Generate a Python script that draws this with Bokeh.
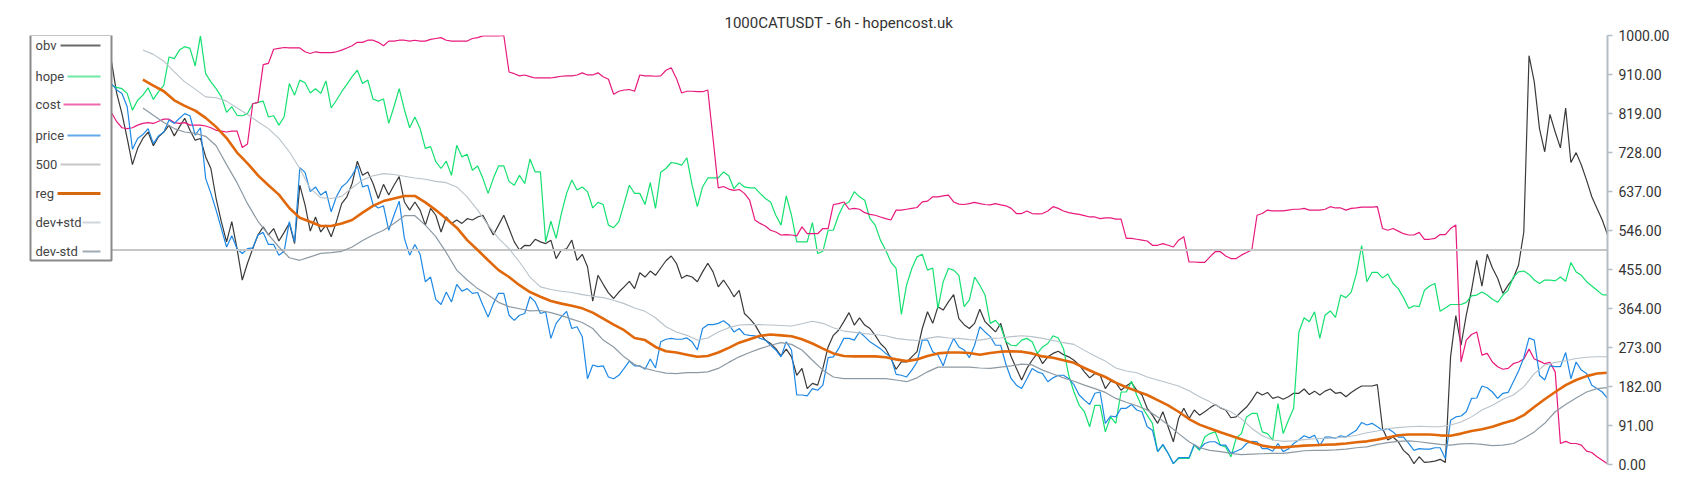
from bokeh.plotting import figure
from bokeh.models import Range1d, FixedTicker, PrintfTickFormatter
from bokeh.core.properties import value
from bokeh.embed import file_html
from bokeh.resources import INLINE

TITLE = "1000CATUSDT - 6h - hopencost.uk"
Y_TICKS = [0, 91, 182, 273, 364, 455, 546, 637, 728, 819, 910, 1000]
LEVEL = 500

obv = [
    939, 865, 818, 760, 699, 737, 760, 775, 743, 764,
    775, 791, 766, 787, 807, 779, 756, 760, 717, 690,
    620, 566, 519, 566, 503, 430, 469, 503, 535, 554,
    535, 550, 521, 541, 562, 515, 651, 605, 544, 577,
    542, 558, 531, 566, 608, 624, 655, 707, 674, 682,
    655, 620, 653, 628, 651, 671, 612, 593, 612, 593,
    558, 597, 581, 542, 577, 562, 570, 562, 573, 570,
    577, 581, 558, 535, 558, 581, 550, 519, 500, 511,
    510, 525, 519, 515, 523, 480, 500, 503, 523, 476,
    490, 461, 381, 441, 420, 400, 387, 402, 414, 427,
    410, 447, 437, 451, 441, 458, 475, 486, 469, 434,
    441, 437, 426, 449, 469, 449, 414, 430, 412, 391,
    406, 352, 340, 326, 305, 290, 282, 270, 253, 269,
    251, 208, 224, 177, 189, 185, 224, 274, 301, 313,
    333, 354, 325, 342, 325, 317, 301, 282, 270, 247,
    222, 239, 239, 251, 263, 317, 356, 329, 368, 360,
    379, 396, 340, 326, 317, 329, 362, 333, 321, 309,
    329, 286, 251, 224, 197, 224, 243, 259, 235, 251,
    259, 264, 256, 251, 243, 232, 216, 202, 212, 208,
    177, 194, 191, 173, 183, 191, 173, 162, 131, 115,
    96, 123, 88, 53, 107, 131, 107, 127, 115, 123,
    132, 140, 132, 127, 109, 111, 123, 134, 150, 169,
    162, 168, 154, 158, 152, 158, 166, 166, 176, 163,
    171, 162, 171, 176, 166, 168, 158, 168, 176, 183,
    183, 183, 186, 84, 57, 64, 53, 33, 22, 2,
    18, 5, 6, 8, 12, 5, 251, 347, 278, 348,
    406, 476, 416, 490, 458, 434, 399, 418, 434, 465,
    542, 953, 892, 783, 729, 816, 775, 738, 831, 704,
    727, 698, 663, 624, 597, 570, 536,
]

hope = [
    884, 879, 876, 865, 826, 849, 861, 878, 851, 869,
    884, 950, 946, 966, 974, 970, 929, 999, 911, 892,
    876, 857, 821, 834, 814, 813, 818, 841, 844, 847,
    810, 813, 791, 810, 888, 861, 896, 890, 866, 876,
    865, 894, 831, 849, 869, 886, 904, 919, 888, 896,
    852, 847, 852, 795, 834, 876, 827, 785, 810, 783,
    737, 741, 706, 690, 707, 674, 744, 717, 723, 686,
    696, 667, 632, 667, 696, 696, 660, 651, 674, 655,
    712, 682, 682, 519, 567, 527, 585, 632, 663, 640,
    647, 636, 598, 611, 606, 558, 552, 566, 608, 651,
    632, 632, 606, 657, 597, 681, 690, 704, 702, 698,
    715, 651, 601, 647, 668, 668, 668, 682, 673, 643,
    657, 647, 645, 645, 632, 620, 612, 581, 558, 626,
    581, 519, 519, 519, 564, 492, 497, 546, 546, 581,
    606, 612, 636, 624, 616, 573, 558, 523, 500, 472,
    457, 350, 418, 457, 484, 490, 453, 458, 364, 426,
    457, 453, 441, 368, 383, 437, 418, 395, 329, 336,
    321, 286, 278, 277, 290, 294, 286, 259, 274, 282,
    300, 295, 270, 208, 169, 138, 123, 88, 138, 138,
    76, 111, 96, 169, 169, 194, 162, 134, 115, 96,
    30, 45, 26, 2, 14, 14, 14, 45, 33, 64,
    72, 76, 45, 41, 18, 61, 72, 111, 119, 119,
    76, 72, 57, 142, 72, 103, 131, 309, 342, 333,
    356, 294, 348, 358, 343, 395, 389, 402, 445, 510,
    426, 448, 448, 435, 444, 422, 410, 389, 364, 370,
    368, 406, 416, 422, 357, 365, 373, 373, 373, 378,
    393, 395, 402, 395, 385, 378, 395, 406, 437, 449,
    451, 443, 430, 422, 430, 430, 428, 437, 427, 471,
    449, 441, 426, 416, 406, 396, 395,
]

cost = [
    820, 799, 785, 783, 785, 791, 795, 797, 795, 800,
    805, 805, 797, 795, 797, 791, 791, 791, 789, 785,
    779, 777, 775, 777, 777, 739, 747, 841, 844, 932,
    935, 968, 970, 972, 971, 971, 971, 962, 958, 962,
    960, 960, 960, 962, 966, 971, 976, 984, 984, 989,
    989, 984, 976, 987, 987, 989, 989, 987, 989, 987,
    987, 991, 993, 995, 989, 987, 987, 987, 987, 993,
    995, 999, 999, 999, 999, 1000, 915, 911, 906, 908,
    904, 901, 901, 901, 901, 903, 905, 906, 906, 908,
    913, 908, 908, 913, 904, 898, 863, 870, 873, 874,
    870, 908, 906, 906, 905, 906, 919, 925, 900, 866,
    870, 870, 869, 869, 873, 760, 645, 648, 642, 639,
    641, 632, 616, 570, 562, 556, 546, 542, 535, 536,
    535, 533, 554, 538, 538, 538, 550, 550, 606, 608,
    612, 595, 597, 595, 587, 583, 581, 577, 573, 570,
    593, 593, 595, 597, 599, 612, 614, 624, 624, 626,
    628, 612, 607, 606, 608, 611, 608, 606, 605, 608,
    605, 603, 597, 585, 585, 591, 585, 584, 585, 591,
    601, 597, 591, 587, 585, 583, 580, 577, 577, 573,
    575, 575, 572, 572, 527, 527, 525, 523, 521, 511,
    511, 515, 511, 507, 523, 531, 472, 472, 471, 471,
    484, 496, 496, 486, 480, 480, 488, 494, 500, 581,
    585, 593, 591, 591, 591, 593, 595, 595, 597, 593,
    593, 593, 595, 601, 598, 598, 593, 597, 598, 600,
    600, 600, 601, 550, 546, 550, 544, 538, 535, 535,
    541, 525, 525, 527, 536, 536, 550, 558, 239, 290,
    303, 309, 255, 259, 239, 228, 222, 224, 235, 239,
    246, 269, 246, 241, 235, 238, 216, 49, 54, 49,
    49, 45, 31, 28, 18, 10, 2,
]

price = [
    888, 873, 865, 834, 735, 760, 769, 783, 748, 766,
    775, 803, 795, 807, 818, 813, 768, 785, 667, 632,
    593, 550, 507, 533, 503, 492, 503, 505, 535, 541,
    513, 513, 488, 497, 566, 519, 692, 681, 636, 647,
    628, 637, 589, 624, 647, 657, 674, 696, 647, 651,
    606, 598, 603, 546, 581, 614, 527, 488, 513, 490,
    426, 437, 385, 373, 402, 379, 420, 404, 410, 399,
    401, 371, 344, 375, 399, 399, 348, 336, 348, 352,
    391, 379, 352, 356, 294, 329, 344, 357, 317, 321,
    298, 200, 232, 228, 230, 204, 200, 208, 224, 241,
    230, 230, 222, 246, 225, 286, 292, 294, 292, 292,
    295, 286, 267, 317, 326, 326, 329, 335, 326, 309,
    317, 303, 301, 300, 294, 290, 278, 267, 251, 286,
    267, 162, 162, 160, 177, 173, 185, 249, 251, 270,
    294, 294, 290, 309, 298, 286, 278, 270, 259, 251,
    210, 208, 204, 220, 239, 290, 290, 263, 255, 230,
    267, 294, 274, 267, 249, 278, 321, 309, 298, 278,
    278, 233, 200, 185, 177, 200, 224, 216, 212, 193,
    202, 208, 208, 200, 186, 162, 150, 140, 166, 169,
    96, 113, 111, 131, 131, 140, 127, 123, 88, 80,
    30, 47, 26, 2, 16, 16, 16, 47, 36, 49,
    53, 53, 45, 45, 26, 31, 36, 49, 54, 53,
    37, 37, 31, 49, 30, 36, 49, 57, 67, 62,
    68, 44, 64, 64, 61, 67, 64, 72, 80, 98,
    92, 96, 88, 80, 84, 76, 64, 64, 49, 33,
    37, 36, 36, 39, 39, 14, 103, 111, 113, 123,
    154, 155, 183, 179, 169, 154, 166, 168, 193, 218,
    249, 295, 290, 208, 197, 230, 228, 228, 261, 200,
    239, 220, 212, 185, 177, 169, 154,
]

# smoothed series, read every second bar starting at bar 6
band_idx = list(range(6, 287, 2))

reg = [
    897, 883, 870, 849, 836, 825, 808, 787, 761, 727,
    702, 674, 651, 629, 598, 575, 566, 556, 556, 562,
    570, 587, 603, 614, 620, 626, 626, 611, 593, 573,
    552, 523, 500, 476, 453, 437, 418, 402, 391, 381,
    375, 370, 364, 354, 340,
    326, 313, 295, 290, 274, 264, 261, 256, 251, 253,
    261, 272, 284, 292, 300, 303, 301, 299, 292, 282,
    270, 259, 253, 252, 252, 252, 250, 245, 241, 245,
    253, 259, 261, 261, 260, 256, 260, 263, 264, 263,
    259, 252, 249, 243, 237, 225, 214,
    204, 191, 180, 171, 162, 150, 138, 123, 106, 93,
    84, 75, 67, 59, 51, 44, 40, 40, 42, 44,
    45, 46, 47, 49, 52, 54, 58, 63, 68, 70,
    70, 70, 68, 67, 72, 78, 82, 88, 96, 103,
    115, 134, 152, 169, 185, 197, 206, 212, 214,
]

dev_plus = [
    966, 956, 940, 915, 892, 875, 857, 855, 847, 831,
    816, 799, 783, 760, 729, 690, 643, 622, 620, 625,
    645, 663, 673, 678, 676, 672, 668, 665, 660, 657,
    647, 624, 593, 558, 527, 503, 472, 437, 414, 408,
    404, 401, 396, 392, 389,
    383, 375, 365, 357, 342, 321, 309, 301, 290, 295,
    309, 319, 325, 326, 326, 325, 324, 323, 328, 334,
    329, 319, 311, 308, 305, 303, 300, 294, 291, 289,
    294, 298, 295, 294, 291, 290, 294, 295, 298, 300,
    298, 294, 289, 284, 280, 266, 253,
    241, 225, 218, 214, 204, 197, 190, 183, 172, 158,
    146, 133, 123, 107, 84, 67, 57, 54, 55, 58,
    60, 61, 62, 64, 68, 74, 78, 84, 86, 88,
    89, 88, 88, 92, 99, 111, 127, 138, 152, 162,
    181, 212, 232, 238, 242, 247, 250, 251, 251,
]

dev_minus = [
    831, 814, 797, 783, 775, 772, 765, 743, 699, 657,
    608, 567, 536, 507, 482, 476, 484, 492, 494, 497,
    507, 522, 535, 546, 562, 580, 580, 558, 531, 494,
    453, 430, 410, 395, 378, 368, 363, 358, 359, 354,
    347, 339, 331, 317, 290,
    274, 251, 233, 224, 218, 213, 212, 214, 214, 216,
    224, 238, 251, 261, 270, 278, 284, 280, 267, 243,
    220, 204, 200, 200, 200, 200, 200, 197, 193, 202,
    216, 227, 227, 227, 227, 225, 224, 227, 230, 234,
    232, 220, 211, 202, 194, 185, 177,
    168, 154, 145, 137, 127, 111, 92, 72, 53, 39,
    33, 30, 26, 23, 24, 25, 26, 26, 29, 32,
    33, 33, 34, 36, 39, 41, 47, 51, 54, 55,
    53, 50, 47, 45, 48, 49, 47, 44, 45, 49,
    61, 76, 96, 123, 140, 155, 169, 177, 179,
]

idx = list(range(len(price)))
last = len(price) - 1

# ---- page layout (pixels) ----
W, H = 1690, 492
FRAME_LEFT, DATA_LEFT, DATA_RIGHT = 24, 111, 1607
FRAME_TOP, FRAME_BOTTOM = 35, 464
ppb = (DATA_RIGHT - DATA_LEFT) / last          # pixels per bar
ppv = (FRAME_BOTTOM - FRAME_TOP) / 1000.0      # pixels per value unit


def px_to_x(px):
    return (px - DATA_LEFT) / ppb


def py_to_y(py):
    return (FRAME_BOTTOM - py) / ppv


p = figure(
    width=W, height=H, output_backend="svg", toolbar_location=None,
    x_axis_location=None, y_axis_location="right",
    x_range=Range1d(px_to_x(FRAME_LEFT), last), y_range=Range1d(0, 1000),
    min_border_left=FRAME_LEFT, min_border_right=W - DATA_RIGHT,
    min_border_top=FRAME_TOP, min_border_bottom=H - FRAME_BOTTOM,
)
p.background_fill_color = "white"
p.border_fill_color = "white"
p.outline_line_color = None
p.xgrid.visible = False
p.ygrid.visible = False

p.title.text = TITLE
p.title.align = "left"
p.title.offset = 700
p.title.text_font = "Roboto"
p.title.text_font_size = "15px"
p.title.text_font_style = "normal"
p.title.text_color = "#333333"
p.title.standoff = 7

ax = p.yaxis[0]
ax.ticker = FixedTicker(ticks=Y_TICKS)
ax.formatter = PrintfTickFormatter(format="%.2f")
ax.axis_line_color = "#b4bec6"
ax.axis_line_width = 2
ax.major_tick_line_color = "#b4bec6"
ax.major_tick_line_width = 1.5
ax.major_tick_in = 0
ax.major_tick_out = 5
ax.minor_tick_line_color = None
ax.major_label_text_font = "Roboto"
ax.major_label_text_font_size = "14px"
ax.major_label_text_color = "#333333"
ax.major_label_standoff = 6

p.line(idx, obv, line_color="#3a3a3a", line_width=1.2)
p.line(list(range(len(hope))), hope, line_color="#14e070", line_width=1.2)
p.line(list(range(len(cost))), cost, line_color="#e8197c", line_width=1.2)
p.line(idx, price, line_color="#1e88e5", line_width=1.2)
p.line([idx[0], last], [LEVEL, LEVEL], line_color="#c6c6c6", line_width=2)
p.line(band_idx, dev_plus, line_color="#b8c2ca", line_width=1.1)
p.line(band_idx, dev_minus, line_color="#8d9aa4", line_width=1.2)
p.line(band_idx, reg, line_color="#e0680a", line_width=2.6)

# ---- legend: label on the left, line sample on the right ----
legend_names = ["obv", "hope", "cost", "price", "500", "reg", "dev+std", "dev-std"]
legend_colors = ["#6a6a6a", "#6ee8a4", "#ee6aac", "#62a8ea", "#c8c8c8", "#d8680e", "#d0d6da", "#a2acb4"]
legend_widths = [2, 2, 2, 2, 2, 3, 2, 2]
legend_row_py = [45, 76, 104, 135, 164, 193, 222, 251]
legend_sample_px = [60, 67, 63, 67, 60, 57, 82, 82]

p.quad(left=[px_to_x(30)], right=[px_to_x(111)], top=[py_to_y(34.5)], bottom=[py_to_y(260)],
       fill_color="white", line_color="#8a8a8a", line_width=2)
p.text(x=[px_to_x(35)] * len(legend_names), y=[py_to_y(v) for v in legend_row_py], text=legend_names,
       text_font=value("Roboto"), text_font_size="13px", text_color="#444444", text_baseline="middle")
p.segment(x0=[px_to_x(v) for v in legend_sample_px], x1=[px_to_x(100)] * len(legend_names),
          y0=[py_to_y(v) for v in legend_row_py], y1=[py_to_y(v) for v in legend_row_py],
          line_color=legend_colors, line_width=legend_widths)

open("out.html", "w").write(file_html(p, INLINE))
